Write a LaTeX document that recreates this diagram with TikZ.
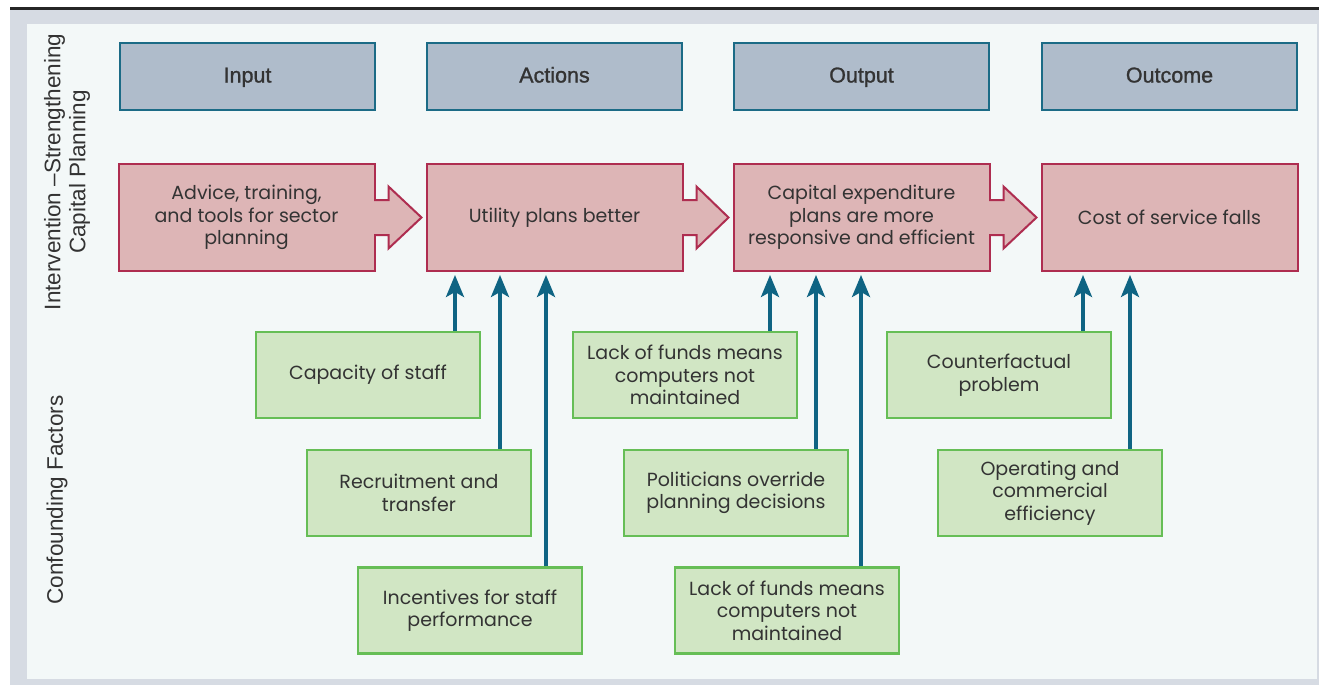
\documentclass[tikz,border=0pt]{standalone}
\usepackage{fontspec}
\setmainfont{Liberation Sans}
\newfontfamily\gothic{Poppins}
\newfontfamily\headfont[FakeBold=1.2]{Liberation Sans}
\usetikzlibrary{arrows.meta}

\definecolor{outerframe}{HTML}{D6DBE3}
\definecolor{panel}{HTML}{F3F8F8}
\definecolor{headfill}{HTML}{AFBCCB}
\definecolor{headline}{HTML}{1B6B86}
\definecolor{pinkfill}{HTML}{DDB5B6}
\definecolor{pinkline}{HTML}{AE2D50}
\definecolor{greenfill}{HTML}{D1E6C4}
\definecolor{greenline}{HTML}{66BE56}
\definecolor{feedcol}{HTML}{0F6483}
\definecolor{textgrey}{HTML}{333333}

\begin{document}
\begin{tikzpicture}[x=1pt,y=1pt]
	\tikzstyle{every node}+=[inner sep=0pt, text=textgrey]
	\tikzstyle{head}=[draw=headline, fill=headfill, line width=2pt, minimum width=255pt, minimum height=67pt, text height=12pt, text depth=0pt, font=\headfont\fontsize{21.5}{25}\selectfont]
	\tikzstyle{stage}=[draw=pinkline, fill=pinkfill, line width=2pt, minimum width=256pt, minimum height=107pt, align=center, font=\gothic\fontsize{19}{22.5}\selectfont]
	\tikzstyle{factor}=[draw=greenline, fill=greenfill, line width=2.5pt, minimum width=224pt, minimum height=86pt, align=center, font=\gothic\fontsize{19}{22.5}\selectfont]
	\tikzstyle{side}=[rotate=90, align=center, font=\fontsize{22.5}{25}\selectfont]
	\tikzstyle{push}=[draw=pinkline, fill=pinkfill, line width=2pt, line join=miter]
	\tikzstyle{feed}=[draw=feedcol, line width=3.5pt, -{Stealth[length=22pt,width=18pt,inset=5pt]}, shorten >=3pt]
	\useasboundingbox (0,0) rectangle (1319,-685);
	% frame and panel
	\fill[white] (0,0) rectangle (1319,-685);
	\fill[outerframe] (10,-10) rectangle (1319,-685);
	\draw[line width=2.5pt, black!85] (10,-8.7) -- (1319,-8.7);
	\fill[panel] (27,-24) rectangle (1317,-679);
	% side labels
	\node[side] (intv) at (67,-172) {Intervention –Strengthening\\Capital Planning};
	\node[side] (conf) at (57,-500) {Confounding Factors};
	% header row
	\node[head] (inp) at (247.5,-76.5) {Input};
	\node[head] (act) at (554.5,-76.5) {Actions};
	\node[head] (outp) at (861.5,-76.5) {Output};
	\node[head] (outc) at (1169.5,-76.5) {Outcome};
	% results chain
	\node[stage] (adv) at (246.5,-217.5) {Advice, training,\\and tools for sector\\planning};
	\node[stage] (util) at (554.5,-217.5) {Utility plans better};
	\node[stage] (capex) at (861.5,-217.5) {Capital expenditure\\plans are more\\responsive and efficient};
	\node[stage] (cost) at (1169.5,-217.5) {Cost of service falls};
	\filldraw[push] ([xshift=-1.5,yshift=17.5]adv.east) -- ++(14.5,0) -- ++(0,13.5) -- ([xshift=-4]util.west) -- ([xshift=13,yshift=-31]adv.east) -- ++(0,13.5) -- ++(-14.5,0);
	\filldraw[push] ([xshift=-1.5,yshift=17.5]util.east) -- ++(14.5,0) -- ++(0,13.5) -- ([xshift=-4]capex.west) -- ([xshift=13,yshift=-31]util.east) -- ++(0,13.5) -- ++(-14.5,0);
	\filldraw[push] ([xshift=-1.5,yshift=17.5]capex.east) -- ++(14.5,0) -- ++(0,13.5) -- ([xshift=-4]cost.west) -- ([xshift=13,yshift=-31]capex.east) -- ++(0,13.5) -- ++(-14.5,0);
	% confounding factors
	\node[factor] (staff) at (368,-375) {Capacity of staff};
	\node[factor] (recr) at (419,-493) {Recruitment and\\transfer};
	\node[factor] (incent) at (470,-610.5) {Incentives for staff\\performance};
	\node[factor] (funda) at (685,-375) {Lack of funds means\\computers not\\maintained};
	\node[factor] (polit) at (736,-493) {Politicians override\\planning decisions};
	\node[factor] (fundb) at (787,-610.5) {Lack of funds means\\computers not\\maintained};
	\node[factor] (count) at (999,-375) {Counterfactual\\problem};
	\node[factor] (oper) at (1050,-493) {Operating and\\commercial\\efficiency};
	% feeds into the chain
	\draw[feed] ([xshift=87]staff.north) -- ([xshift=87]staff.north |- util.south);
	\draw[feed] ([xshift=81]recr.north) -- ([xshift=81]recr.north |- util.south);
	\draw[feed] ([xshift=76]incent.north) -- ([xshift=76]incent.north |- util.south);
	\draw[feed] ([xshift=85]funda.north) -- ([xshift=85]funda.north |- capex.south);
	\draw[feed] ([xshift=80]polit.north) -- ([xshift=80]polit.north |- capex.south);
	\draw[feed] ([xshift=74]fundb.north) -- ([xshift=74]fundb.north |- capex.south);
	\draw[feed] ([xshift=84]count.north) -- ([xshift=84]count.north |- cost.south);
	\draw[feed] ([xshift=80]oper.north) -- ([xshift=80]oper.north |- cost.south);
\end{tikzpicture}
\end{document}
